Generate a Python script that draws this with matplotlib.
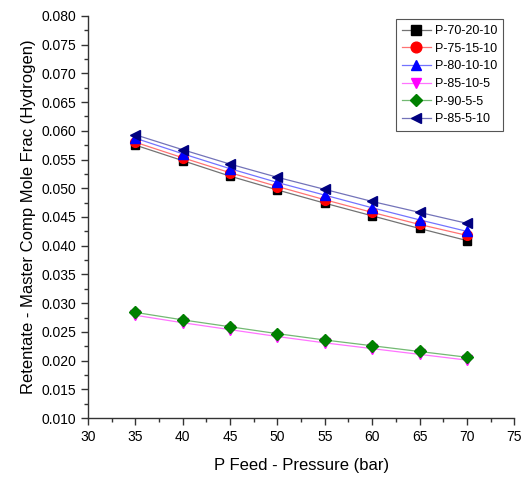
import matplotlib.pyplot as plt
from matplotlib.ticker import MultipleLocator
from matplotlib.colors import to_rgba

plt.rcParams['font.family'] = ['Liberation Sans', 'DejaVu Sans']

pressure = [35, 40, 45, 50, 55, 60, 65, 70]

p70_20_10 = [0.0575, 0.0548, 0.0521, 0.0497, 0.0474, 0.0452, 0.0430, 0.0409]
p75_15_10 = [0.0580, 0.0553, 0.0527, 0.0503, 0.0480, 0.0458, 0.0437, 0.0418]
p80_10_10 = [0.0587, 0.0560, 0.0534, 0.0510, 0.0488, 0.0466, 0.0445, 0.0425]
p85_10_5 = [0.0279, 0.0266, 0.0254, 0.0242, 0.0231, 0.0221, 0.0211, 0.0201]
p90_5_5 = [0.0284, 0.0271, 0.0259, 0.0247, 0.0236, 0.0226, 0.0216, 0.0206]
p85_5_10 = [0.0593, 0.0567, 0.0542, 0.0519, 0.0498, 0.0477, 0.0458, 0.0439]

series = [
    ("P-70-20-10", p70_20_10, "black", "s"),
    ("P-75-15-10", p75_15_10, "red", "o"),
    ("P-80-10-10", p80_10_10, "blue", "^"),
    ("P-85-10-5", p85_10_5, "magenta", "v"),
    ("P-90-5-5", p90_5_5, "green", "D"),
    ("P-85-5-10", p85_5_10, "navy", "<"),
]

fig = plt.figure(figsize=(5.21, 4.79), dpi=100)
ax = fig.add_axes([0.169, 0.127, 0.818, 0.840])

for name, vals, col, mk in series:
    ms = 6 if mk in ("s", "D") else 7
    ax.plot(pressure, vals, color=to_rgba(col, 0.55), linewidth=0.9,
            marker=mk, markersize=ms, markerfacecolor=col, markeredgecolor=col,
            label=name)

ax.set_xlim(30, 75)
ax.set_ylim(0.010, 0.080)
ax.xaxis.set_major_locator(MultipleLocator(5))
ax.xaxis.set_minor_locator(MultipleLocator(2.5))
ax.yaxis.set_major_locator(MultipleLocator(0.005))
ax.yaxis.set_minor_locator(MultipleLocator(0.0025))
ax.yaxis.set_major_formatter(plt.FuncFormatter(lambda v, p: f"{v:.3f}"))

ax.spines['top'].set_visible(False)
ax.spines['right'].set_visible(False)
for s in ('left', 'bottom'):
    ax.spines[s].set_color('#333333')
    ax.spines[s].set_linewidth(1.0)
ax.tick_params(which='major', direction='out', length=5, width=1, labelsize=10, colors='#333333', labelcolor='black')
ax.tick_params(which='minor', direction='out', length=3, width=1, colors='#333333')

ax.set_xlabel("P Feed - Pressure (bar)", fontsize=12, labelpad=10)
ax.set_ylabel("Retentate - Master Comp Mole Frac (Hydrogen)", fontsize=12, labelpad=4)

leg = ax.legend(loc='upper right', bbox_to_anchor=(0.974, 0.9925), fontsize=9,
                fancybox=False, framealpha=1, edgecolor='#555555',
                handlelength=2.3, handletextpad=0.3, labelspacing=0.45,
                borderpad=0.5, borderaxespad=0.0, markerscale=1.1)
leg.get_frame().set_linewidth(0.8)

fig.savefig("out.png", dpi=100)
